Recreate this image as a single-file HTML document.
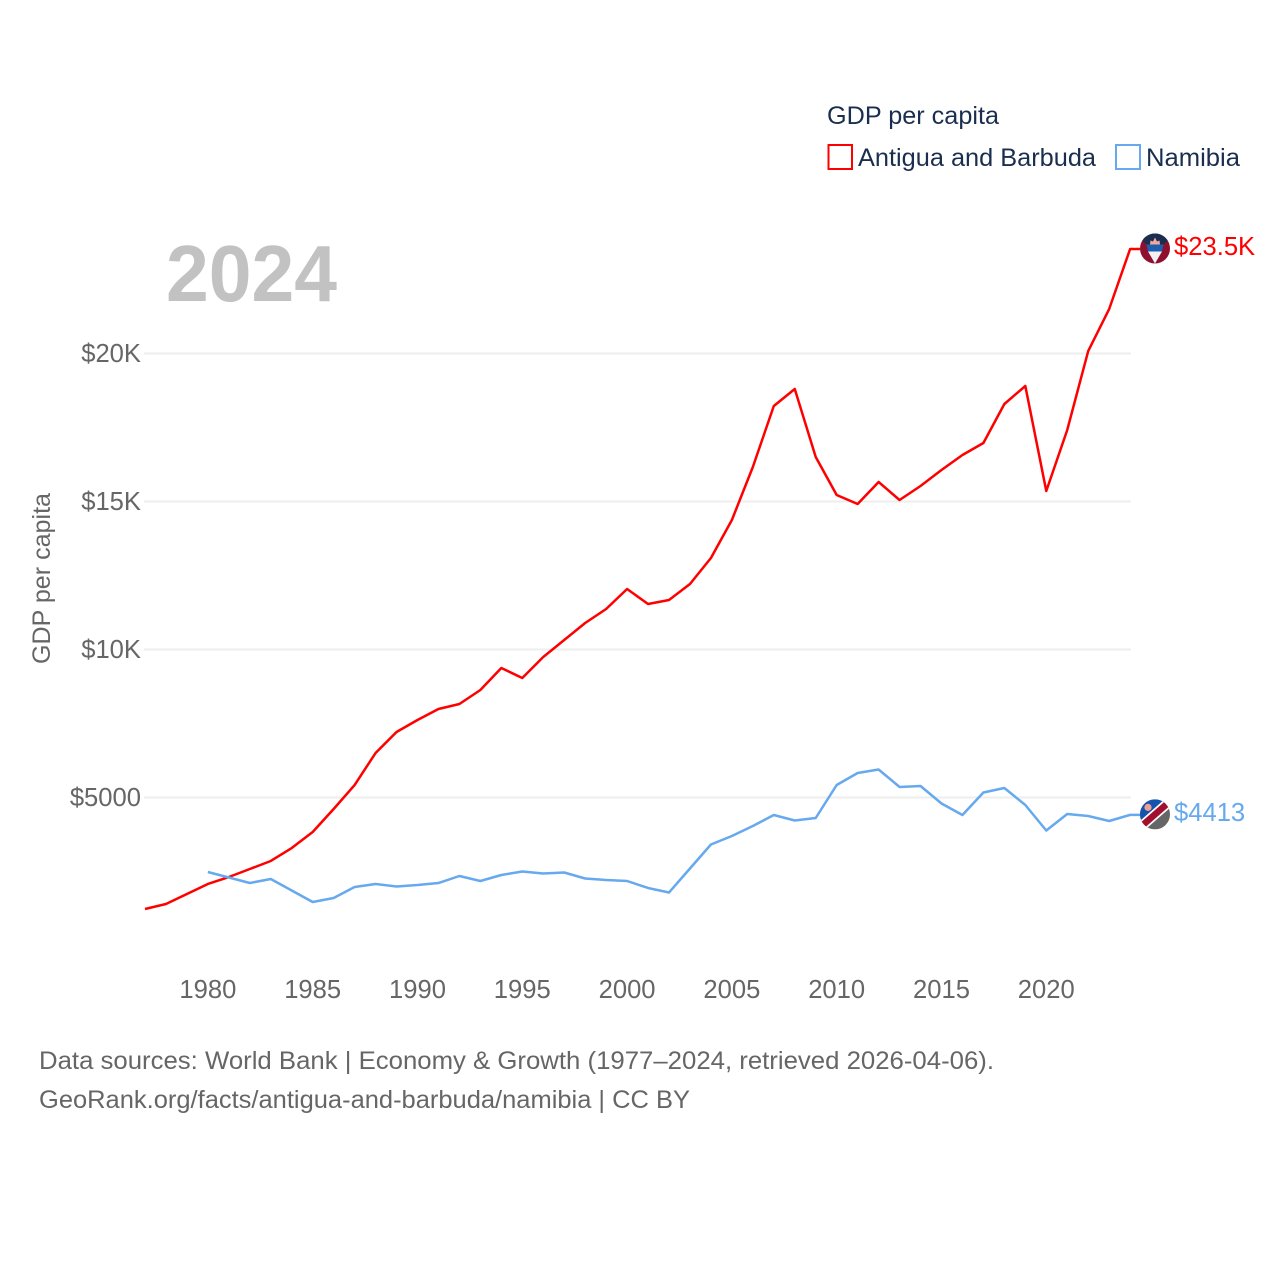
<!DOCTYPE html>
<html lang="en">
<head>
<meta charset="utf-8">
<title>GDP per capita: Antigua and Barbuda vs Namibia</title>
<style>
html,body{margin:0;padding:0;background:#fff;}
svg{display:block;}
text{font-family:"Liberation Sans",sans-serif;}
</style>
</head>
<body>
<svg id="chart" width="1280" height="1280" viewBox="0 0 1280 1280" xmlns="http://www.w3.org/2000/svg">
  <defs>
    <clipPath id="flag-clip"><circle cx="0" cy="0" r="15"/></clipPath>
  </defs>
  <g id="grid"></g>
  <g id="y-ticks"></g>
  <g id="x-ticks"></g>
  <text x="166" y="301" font-size="80" font-weight="700" fill="#c2c2c2" textLength="171" lengthAdjust="spacingAndGlyphs">2024</text>
  <text transform="translate(50,664) rotate(-90)" font-size="25" fill="#666666" textLength="171" lengthAdjust="spacingAndGlyphs">GDP per capita</text>
  <g id="series"></g>

  <g id="flag-antigua">
    <g clip-path="url(#flag-clip)">
      <rect x="-15" y="-15" width="30" height="30" fill="#8f0f2e"/>
      <polygon points="-15,-15 15,-15 15,-10 8.5,-4 -8.5,-4 -15,-10" fill="#1a2f4f"/>
      <polygon points="-8.5,-4 8.5,-4 7,3 -7,3" fill="#1f5fae"/>
      <polygon points="-7,3 7,3 0,15" fill="#f2f2f2"/>
      <polygon points="-5,-4 -4.5,-8 -2,-7 0,-11 2,-7 4.5,-8 5,-4" fill="#f4a9a0"/>
    </g>
  </g>
  <g id="flag-namibia">
    <g clip-path="url(#flag-clip)">
      <rect x="-15" y="-15" width="30" height="30" fill="#666666"/>
      <polygon points="-16,-16 16,-16 16,-14 -16,14" fill="#1554ae"/>
      <line x1="-16" y1="14" x2="16" y2="-14" stroke="#ffffff" stroke-width="10"/>
      <line x1="-16" y1="14" x2="16" y2="-14" stroke="#a3102f" stroke-width="6.5"/>
      <circle cx="-7" cy="-7" r="3.6" fill="#f0a090"/>
    </g>
  </g>
  <text id="label-antigua" x="1174" font-size="25.6" fill="#ff0000"></text>
  <text id="label-namibia" x="1174" font-size="25.6" fill="#66a9ee"></text>

  <g>
    <text x="827" y="124" font-size="25" fill="#1a2f4f" textLength="172" lengthAdjust="spacingAndGlyphs">GDP per capita</text>
    <g>
      <rect x="828.5" y="145" width="23.5" height="24" fill="none" stroke="#ff0000" stroke-width="2"/>
      <text x="858" y="166" font-size="25" fill="#1a2f4f" textLength="238" lengthAdjust="spacingAndGlyphs">Antigua and Barbuda</text>
    </g>
    <g>
      <rect x="1116" y="145" width="24" height="24" fill="none" stroke="#66a9ee" stroke-width="2"/>
      <text x="1146" y="166" font-size="25" fill="#1a2f4f" textLength="94" lengthAdjust="spacingAndGlyphs">Namibia</text>
    </g>
  </g>

  <text x="39" y="1069" font-size="25" fill="#666666" textLength="955" lengthAdjust="spacingAndGlyphs">Data sources: World Bank | Economy &amp; Growth (1977–2024, retrieved 2026-04-06).</text>
  <text x="39" y="1108" font-size="25" fill="#666666" textLength="651" lengthAdjust="spacingAndGlyphs">GeoRank.org/facts/antigua-and-barbuda/namibia | CC BY</text>
</svg>
<script>
const antiguaStartYear = 1977;
const antiguaValues = [1233,1402,1740,2078,2314,2584,2855,3294,3834,4611,5422,6503,7213,7618,7990,8159,8632,9375,9037,9747,10321,10895,11368,12044,11537,11672,12213,13091,14375,16166,18226,18801,16503,15220,14916,15659,15051,15524,16064,16571,16976,18294,18902,15355,17416,20084,21503,23530];
const namibiaStartYear = 1980;
const namibiaValues = [2483,2297,2111,2247,1858,1470,1605,1976,2078,1993,2044,2111,2348,2179,2382,2500,2432,2466,2264,2213,2179,1943,1791,2601,3412,3699,4037,4409,4223,4307,5422,5828,5946,5355,5389,4797,4409,5169,5321,4747,3885,4443,4375,4206,4413];
const xTickYears = [1980,1985,1990,1995,2000,2005,2010,2015,2020];
const yTickValues = [5000,10000,15000,20000];
const yTickLabels = ["$5000","$10K","$15K","$20K"];

const NS = "http://www.w3.org/2000/svg";
function xScale(year){ return 145 + (year - 1977) * 20.96; }
function yScale(value){ return 945.5 - value * 0.0296; }
function formatValue(v){ return v >= 10000 ? "$" + (v / 1000).toFixed(1) + "K" : "$" + Math.round(v); }
function make(tag, parent, attrs){
  const el = document.createElementNS(NS, tag);
  for (const k in attrs) el.setAttribute(k, attrs[k]);
  parent.appendChild(el);
  return el;
}

const gridGroup = document.getElementById("grid");
const yTickGroup = document.getElementById("y-ticks");
yTickValues.forEach(function(v, i){
  const line = make("line", gridGroup, {x1: 144, x2: 1131, y1: yScale(v), y2: yScale(v), stroke: "#eeeeee", "stroke-width": 2});
  
  
  const t = make("text", yTickGroup, {x: 141, y: yScale(v) + 8.5, "text-anchor": "end", "font-size": 25.6, fill: "#666666"});
  t.textContent = yTickLabels[i];
  
  
});

const xTickGroup = document.getElementById("x-ticks");
xTickYears.forEach(function(yr){
  const t = make("text", xTickGroup, {x: xScale(yr), y: 998, "text-anchor": "middle", "font-size": 25.6, fill: "#666666"});
  t.textContent = yr;
  
  
});

function linePoints(values, startYear){
  const pts = values.map(function(v, i){ return xScale(startYear + i).toFixed(2) + "," + yScale(v).toFixed(2); });
  pts.push("1140," + yScale(values[values.length - 1]).toFixed(2));
  return pts.join(" ");
}
const seriesGroup = document.getElementById("series");
const antiguaLine = make("polyline", seriesGroup, {points: linePoints(antiguaValues, antiguaStartYear), fill: "none", stroke: "#ff0000", "stroke-width": 2.5, "stroke-linejoin": "round"});


const namibiaLine = make("polyline", seriesGroup, {points: linePoints(namibiaValues, namibiaStartYear), fill: "none", stroke: "#66a9ee", "stroke-width": 2.5, "stroke-linejoin": "round"});



function placeEnd(flagId, labelId, values){
  const last = values[values.length - 1];
  const y = yScale(last);
  document.getElementById(flagId).setAttribute("transform", "translate(1155," + (y - 0.5) + ")");
  const label = document.getElementById(labelId);
  label.setAttribute("y", y + 6);
  label.textContent = formatValue(last);
}
placeEnd("flag-antigua", "label-antigua", antiguaValues);
placeEnd("flag-namibia", "label-namibia", namibiaValues);
</script>
</body>
</html>
